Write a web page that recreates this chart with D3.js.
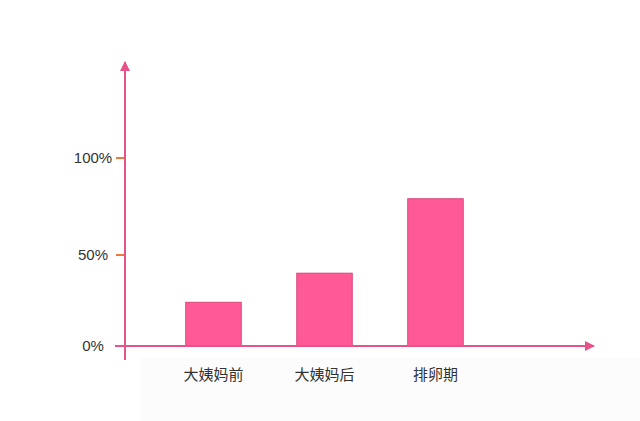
<!DOCTYPE html>
<html>
<head>
<meta charset="utf-8">
<script src="https://cdn.jsdelivr.net/npm/d3@7"></script>
<style>
  body { margin: 0; background: #fff; }
  text { font-family: "Liberation Sans", "Noto Sans CJK SC", sans-serif; fill: #333; }
</style>
</head>
<body>
<div id="chart"></div>
<script>
// data
const categories = ["大姨妈前", "大姨妈后", "排卵期"];
const values = [24, 40, 79];
const tickValues = [0, 50, 100];
const tickLabels = ["0%", "50%", "100%"];

const W = 640, H = 421;
const axisColor = "#e8528a";
const barColor = "#ff5a96";

const svg = d3.select("#chart").append("svg")
  .attr("width", W)
  .attr("height", H);

// very faint off-white area in the lower right of the picture
svg.append("rect")
  .attr("x", 140).attr("y", 358)
  .attr("width", W - 140).attr("height", H - 358)
  .attr("fill", "#fcfcfc");

// scales
const x = d3.scaleBand()
  .domain(categories)
  .range([158, 491])
  .paddingInner(0.5)
  .paddingOuter(0.25);

const y = d3.scaleLinear()
  .domain(tickValues)
  .range([346, 255, 158]);

// bars
svg.selectAll(".bar")
  .data(values)
  .enter().append("rect")
  .attr("class", "bar")
  .attr("x", (d, i) => x(categories[i]))
  .attr("y", d => y(d))
  .attr("width", x.bandwidth())
  .attr("height", d => y(0) - y(d))
  .attr("fill", barColor)
  .attr("stroke", "#d9477e")
  .attr("stroke-width", 1);

// arrow marker
svg.append("defs").append("marker")
  .attr("id", "arrow")
  .attr("viewBox", "0 0 10 10")
  .attr("refX", 9).attr("refY", 5)
  .attr("markerWidth", 10).attr("markerHeight", 10)
  .attr("markerUnits", "userSpaceOnUse")
  .attr("orient", "auto")
  .append("path")
  .attr("d", "M0,0 L10,5 L0,10 z")
  .attr("fill", axisColor);

// x axis line
svg.append("line")
  .attr("x1", 115).attr("y1", y(0))
  .attr("x2", 594).attr("y2", y(0))
  .attr("stroke", axisColor)
  .attr("stroke-width", 2)
  .attr("marker-end", "url(#arrow)");

// y axis line
svg.append("line")
  .attr("x1", 125).attr("y1", 360)
  .attr("x2", 125).attr("y2", 62)
  .attr("stroke", axisColor)
  .attr("stroke-width", 2)
  .attr("marker-end", "url(#arrow)");

// y ticks (no mark at 0)
svg.selectAll(".ytick")
  .data(tickValues.filter(d => d > 0))
  .enter().append("line")
  .attr("class", "ytick")
  .attr("x1", 116).attr("x2", 124)
  .attr("y1", d => y(d)).attr("y2", d => y(d))
  .attr("stroke", "#f07a3a")
  .attr("stroke-width", 2);

svg.selectAll(".ylabel")
  .data(tickValues)
  .enter().append("text")
  .attr("class", "ylabel")
  .attr("x", 93)
  .attr("y", d => y(d))
  .attr("dy", "0.35em")
  .attr("text-anchor", "middle")
  .style("font-size", "15px")
  .text((d, i) => tickLabels[i]);

// category labels
svg.selectAll(".xlabel")
  .data(categories)
  .enter().append("text")
  .attr("class", "xlabel")
  .attr("x", d => x(d) + x.bandwidth() / 2)
  .attr("y", 380)
  .attr("text-anchor", "middle")
  .style("font-family", "'Noto Sans CJK SC', sans-serif")
  .style("font-size", "15px")
  .text(d => d);
</script>
</body>
</html>
